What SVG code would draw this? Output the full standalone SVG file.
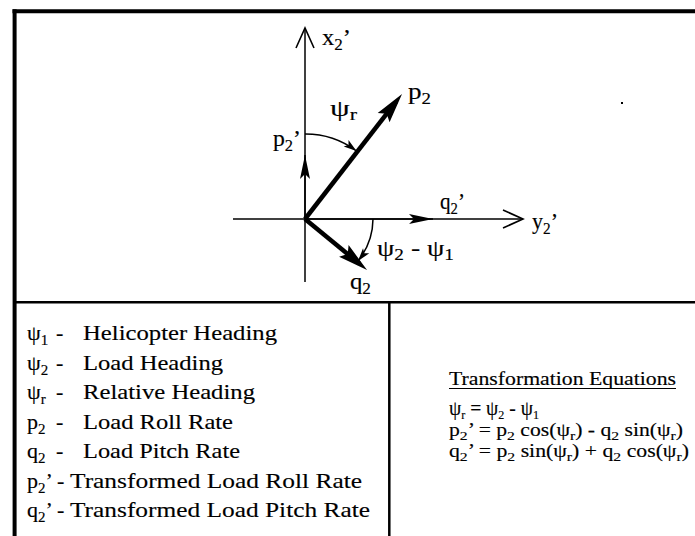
<svg xmlns="http://www.w3.org/2000/svg" width="695" height="536" viewBox="0 0 695 536">
<style>
text{font-family:'Liberation Serif','Times New Roman',serif;fill:#000;stroke:#000;stroke-width:0.15}
.lbl{font-size:23px}
.sub{font-size:16px}
.lg{font-size:22px}
.lgs{font-size:15px}
.eq{font-size:18px}
.eqs{font-size:13px}
.eq1{font-size:21px}
.frame{stroke:#000;fill:none}
.axis{stroke:#000;stroke-width:1.5;fill:none}
.vec{stroke:#000;stroke-width:4.5;fill:none}
.arc{stroke:#000;stroke-width:1.5;fill:none}
</style>
<defs>
<marker id="open" markerUnits="userSpaceOnUse" markerWidth="24" markerHeight="22" refX="20" refY="9" orient="auto" overflow="visible"><path d="M0,0 L20,9 L0,18" fill="none" stroke="#000" stroke-width="1.6"/></marker>
<marker id="big" markerUnits="userSpaceOnUse" markerWidth="32" markerHeight="16" refX="20" refY="7.5" orient="auto" overflow="visible"><path d="M0,0 L30,7.5 L0,15 L5,7.5 z" fill="#000"/></marker>
<marker id="thin" markerUnits="userSpaceOnUse" markerWidth="26" markerHeight="12" refX="24" refY="5" orient="auto" overflow="visible"><path d="M0,0 L24,5 L0,10 L5,5 z" fill="#000"/></marker>
<marker id="small" markerUnits="userSpaceOnUse" markerWidth="14" markerHeight="10" refX="13" refY="4" orient="auto" overflow="visible"><path d="M0,0 L13,4 L0,8 L3,4 z" fill="#000"/></marker>
</defs>
<rect width="695" height="536" fill="#fff"/>
<g id="frame" class="frame">
<line x1="12.5" y1="11.3" x2="695" y2="11.3" stroke-width="4"/>
<line x1="14.6" y1="9.3" x2="14.6" y2="536" stroke-width="4"/>
<line x1="14" y1="302.3" x2="695" y2="302.3" stroke-width="2.5"/>
<line x1="389.3" y1="302" x2="389.3" y2="536" stroke-width="2.5"/>
<rect x="621" y="102" width="2" height="2" fill="#000" stroke="none"/>
</g>
<g id="connectors">
<path id="axis-x" class="axis" d="M305,282 L305,28" marker-end="url(#open)"/>
<path id="axis-y" class="axis" d="M233,219 L523,219" marker-end="url(#open)"/>
<path id="vec-p2p" class="axis" d="M305,219 L305,155" marker-end="url(#thin)"/>
<path id="vec-q2p" class="axis" d="M305,219 L433,219" marker-end="url(#thin)"/>
<path id="vec-p2" class="vec" d="M305,219 L395.9,101.9" marker-end="url(#big)"/>
<path id="vec-q2" class="vec" d="M305,219 L359.3,263.6" marker-end="url(#big)"/>
<path id="arc-psir" class="arc" d="M305,134 A85,85 0 0 1 356.5,151" marker-end="url(#small)"/>
<path id="arc-psi21" class="arc" d="M373,219 A68,68 0 0 1 358,261" marker-end="url(#small)"/>
</g>
<g id="labels">
<g id="lbl-x2"><text class="lbl" x="322" y="45" textLength="29" lengthAdjust="spacingAndGlyphs">x<tspan class="sub" dy="5">2</tspan><tspan dy="-5">’</tspan></text></g>
<g id="lbl-p2"><text class="lbl" x="408" y="99" textLength="23" lengthAdjust="spacingAndGlyphs">p<tspan class="sub" dy="5">2</tspan></text></g>
<g id="lbl-psir"><text class="lbl" x="330" y="116" textLength="27" lengthAdjust="spacingAndGlyphs">ψ<tspan class="sub" dy="4">r</tspan></text></g>
<g id="lbl-p2p"><text class="lbl" x="273" y="146" textLength="28" lengthAdjust="spacingAndGlyphs">p<tspan class="sub" dy="5">2</tspan><tspan dy="-5">’</tspan></text></g>
<g id="lbl-q2p"><text class="lbl" x="440" y="209" textLength="25" lengthAdjust="spacingAndGlyphs">q<tspan class="sub" dy="5">2</tspan><tspan dy="-5">’</tspan></text></g>
<g id="lbl-y2"><text class="lbl" x="532" y="229" textLength="26" lengthAdjust="spacingAndGlyphs">y<tspan class="sub" dy="5">2</tspan><tspan dy="-5">’</tspan></text></g>
<g id="lbl-psi21"><text class="lbl" x="377" y="256" textLength="77" lengthAdjust="spacingAndGlyphs">ψ<tspan class="sub" dy="4">2</tspan><tspan dy="-4"> - ψ</tspan><tspan class="sub" dy="4">1</tspan></text></g>
<g id="lbl-q2"><text class="lbl" x="350" y="289" textLength="21" lengthAdjust="spacingAndGlyphs">q<tspan class="sub" dy="5">2</tspan></text></g>
</g>
<g id="legend">
<text class="lg" x="27" y="340">ψ<tspan class="lgs" dy="5">1</tspan></text>
<text class="lg" x="56" y="340">-</text>
<text class="lg" x="83" y="340" textLength="194" lengthAdjust="spacingAndGlyphs">Helicopter Heading</text>
<text class="lg" x="27" y="369.5">ψ<tspan class="lgs" dy="5">2</tspan></text>
<text class="lg" x="56" y="369.5">-</text>
<text class="lg" x="83" y="369.5" textLength="140" lengthAdjust="spacingAndGlyphs">Load Heading</text>
<text class="lg" x="27" y="399">ψ<tspan class="lgs" dy="5">r</tspan></text>
<text class="lg" x="56" y="399">-</text>
<text class="lg" x="83" y="399" textLength="172" lengthAdjust="spacingAndGlyphs">Relative Heading</text>
<text class="lg" x="27" y="428.5">p<tspan class="lgs" dy="5">2</tspan></text>
<text class="lg" x="56" y="428.5">-</text>
<text class="lg" x="83" y="428.5" textLength="150" lengthAdjust="spacingAndGlyphs">Load Roll Rate</text>
<text class="lg" x="27" y="458">q<tspan class="lgs" dy="5">2</tspan></text>
<text class="lg" x="56" y="458">-</text>
<text class="lg" x="83" y="458" textLength="157" lengthAdjust="spacingAndGlyphs">Load Pitch Rate</text>
<text class="lg" x="27" y="487.5">p<tspan class="lgs" dy="5">2</tspan><tspan dy="-5">’</tspan></text>
<text class="lg" x="57" y="487.5">-</text>
<text class="lg" x="70" y="487.5" textLength="292" lengthAdjust="spacingAndGlyphs">Transformed Load Roll Rate</text>
<text class="lg" x="27" y="517">q<tspan class="lgs" dy="5">2</tspan><tspan dy="-5">’</tspan></text>
<text class="lg" x="57" y="517">-</text>
<text class="lg" x="70" y="517" textLength="300" lengthAdjust="spacingAndGlyphs">Transformed Load Pitch Rate</text>
</g>
<g id="equations">
<text class="eq" x="449" y="385" textLength="227" lengthAdjust="spacingAndGlyphs">Transformation Equations</text>
<line x1="449" y1="388.5" x2="676" y2="388.5" stroke="#000" stroke-width="1.2"/>
<text class="eq1" x="449" y="415" textLength="90" lengthAdjust="spacingAndGlyphs">ψ<tspan class="eqs" dy="3.5">r</tspan><tspan dy="-3.5"> = ψ</tspan><tspan class="eqs" dy="3.5">2</tspan><tspan dy="-3.5"> - ψ</tspan><tspan class="eqs" dy="3.5">1</tspan></text>
<text class="eq" x="449" y="436" textLength="234" lengthAdjust="spacingAndGlyphs">p<tspan class="eqs" dy="3.5">2</tspan><tspan dy="-3.5">’ = p</tspan><tspan class="eqs" dy="3.5">2</tspan><tspan dy="-3.5"> cos(ψ</tspan><tspan class="eqs" dy="3.5">r</tspan><tspan dy="-3.5">) - q</tspan><tspan class="eqs" dy="3.5">2</tspan><tspan dy="-3.5"> sin(ψ</tspan><tspan class="eqs" dy="3.5">r</tspan><tspan dy="-3.5">)</tspan></text>
<text class="eq" x="449" y="457" textLength="240" lengthAdjust="spacingAndGlyphs">q<tspan class="eqs" dy="3.5">2</tspan><tspan dy="-3.5">’ = p</tspan><tspan class="eqs" dy="3.5">2</tspan><tspan dy="-3.5"> sin(ψ</tspan><tspan class="eqs" dy="3.5">r</tspan><tspan dy="-3.5">) + q</tspan><tspan class="eqs" dy="3.5">2</tspan><tspan dy="-3.5"> cos(ψ</tspan><tspan class="eqs" dy="3.5">r</tspan><tspan dy="-3.5">)</tspan></text>
</g>
</svg>
